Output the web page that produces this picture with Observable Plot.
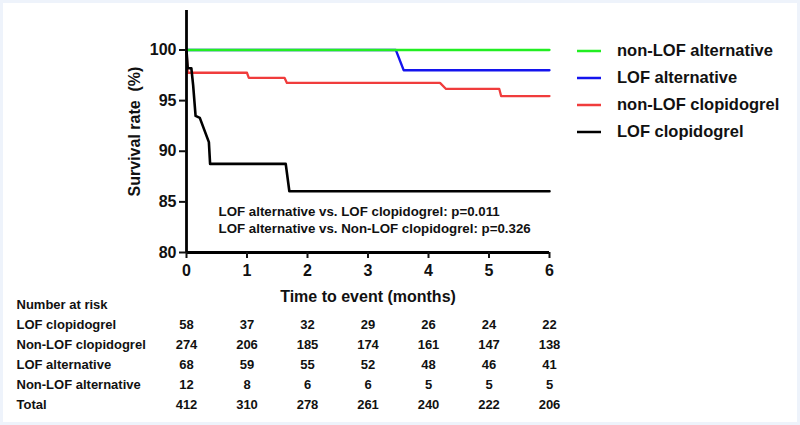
<!DOCTYPE html>
<html>
<head>
<meta charset="utf-8">
<script src="https://cdn.jsdelivr.net/npm/d3@7"></script>
<script src="https://cdn.jsdelivr.net/npm/@observablehq/plot@0.6"></script>
<style>
  html, body { margin: 0; padding: 0; background: #ffffff; }
  #wrap { position: relative; width: 800px; height: 425px; overflow: hidden; font-family: "Liberation Sans", Arial, sans-serif; }
  #frame { position: absolute; left: 0; top: 0; width: 800px; height: 425px; box-sizing: border-box; border: 3px solid #eef3fb; pointer-events: none; }
  #main { position: absolute; left: 0; top: 0; }
  #table { position: absolute; left: 0; top: 290px; }
  #legend { position: absolute; left: 577px; top: 37px; }
  .lg { display: flex; align-items: center; height: 27px; font-weight: bold; font-size: 16.5px; color: #111; }
  .lg svg { margin-right: 16px; }
</style>
</head>
<body>
<div id="wrap">
  <div id="main"></div>
  <div id="table"></div>
  <div id="legend"></div>
  <div id="frame"></div>
</div>
<script>
// ---- Data ----
const seriesNames = ["non-LOF alternative", "LOF alternative", "non-LOF clopidogrel", "LOF clopidogrel"];
const seriesColors = ["#22ee22", "#1414ee", "#f03c3c", "#000000"];

const nonLofAltTime = [0, 6];
const nonLofAltSurv = [100, 100];

const lofAltTime = [0, 3.46, 3.59, 6];
const lofAltSurv = [100, 100, 98, 98];

const nonLofClopTime = [0, 0.02, 1.0, 1.03, 1.62, 1.66, 4.19, 4.29, 5.17, 5.2, 6];
const nonLofClopSurv = [100, 97.75, 97.75, 97.25, 97.25, 96.75, 96.75, 96.15, 96.15, 95.45, 95.45];

const lofClopTime = [0, 0.02, 0.08, 0.11, 0.15, 0.22, 0.37, 0.39, 1.64, 1.7, 6];
const lofClopSurv = [100, 98.2, 98.2, 96.5, 93.5, 93.3, 90.9, 88.75, 88.75, 86.05, 86.05];

const yTicks = [80, 85, 90, 95, 100];
const xTicks = [0, 1, 2, 3, 4, 5, 6];

const annotations = [
  "LOF alternative vs. LOF clopidogrel: p=0.011",
  "LOF alternative vs. Non-LOF clopidogrel: p=0.326"
];
const annotationY = [84.0, 82.35];

const riskHeader = "Number at risk";
const riskRows = ["LOF clopidogrel", "Non-LOF clopidogrel", "LOF alternative", "Non-LOF alternative", "Total"];
const riskLofClop = [58, 37, 32, 29, 26, 24, 22];
const riskNonLofClop = [274, 206, 185, 174, 161, 147, 138];
const riskLofAlt = [68, 59, 55, 52, 48, 46, 41];
const riskNonLofAlt = [12, 8, 6, 6, 5, 5, 5];
const riskTotal = [412, 310, 278, 261, 240, 222, 206];

// ---- Build tables ----
const curves = [
  [nonLofAltTime, nonLofAltSurv],
  [lofAltTime, lofAltSurv],
  [nonLofClopTime, nonLofClopSurv],
  [lofClopTime, lofClopSurv]
];
const lineData = [];
curves.forEach(([t, s], i) => t.forEach((tt, j) => lineData.push({series: seriesNames[i], t: tt, s: s[j]})));
const drawOrder = ["non-LOF clopidogrel", "LOF alternative", "LOF clopidogrel", "non-LOF alternative"];

const font = "Liberation Sans, Arial, sans-serif";

const main = Plot.plot({
  width: 800,
  height: 312,
  marginLeft: 186,
  marginRight: 251,
  marginTop: 10,
  marginBottom: 60,
  style: {fontFamily: font, background: "transparent", color: "#111"},
  x: {domain: [0, 6]},
  y: {domain: [80, 103.9]},
  marks: [
    ...drawOrder.map(name => Plot.line(lineData.filter(d => d.series === name), {
      x: "t", y: "s", stroke: seriesColors[seriesNames.indexOf(name)],
      strokeWidth: name === "LOF clopidogrel" ? 2.6 : 2.3
    })),
    Plot.ruleX([0], {strokeWidth: 2.8, stroke: "#000"}),
    Plot.ruleY([80], {strokeWidth: 2.8, stroke: "#000"}),
    Plot.axisY({ticks: yTicks, tickSize: 7, tickPadding: 3, strokeWidth: 2, fontSize: 16, fontWeight: "bold",
      label: "Survival rate  (%)", labelAnchor: "center", labelArrow: "none", labelOffset: 58}),
    Plot.axisX({ticks: xTicks, tickFormat: "d", tickSize: 6, tickPadding: 6, strokeWidth: 2, fontSize: 16, fontWeight: "bold",
      label: "Time to event (months)", labelAnchor: "center", labelArrow: "none", labelOffset: 49}),
    Plot.text(annotations, {x: 0.53, y: (d, i) => annotationY[i], text: d => d, textAnchor: "start",
      fontSize: 13.3, fontWeight: "bold", fill: "#111"})
  ]
});
document.getElementById("main").appendChild(main);

// ---- Risk table ----
const tableRows = [];
const rowOrder = [riskHeader, ...riskRows];
[riskLofClop, riskNonLofClop, riskLofAlt, riskNonLofAlt, riskTotal].forEach((vals, i) =>
  vals.forEach((v, j) => tableRows.push({row: riskRows[i], t: xTicks[j], v})));

const table = Plot.plot({
  width: 800,
  height: 135,
  marginLeft: 186,
  marginRight: 251,
  marginTop: 13,
  marginBottom: 20,
  style: {fontFamily: font, background: "transparent", color: "#111"},
  x: {domain: [0, 6], axis: null},
  y: {type: "point", domain: rowOrder, axis: null, padding: 0},
  marks: [
    Plot.text(rowOrder, {y: d => d, text: d => d, frameAnchor: "left", dx: -170, textAnchor: "start",
      fontSize: 13, fontWeight: "bold", fill: "#111"}),
    Plot.text(tableRows, {x: "t", y: "row", text: "v", fontSize: 13, fontWeight: "bold", fill: "#111"})
  ]
});
document.getElementById("table").appendChild(table);

// ---- Legend ----
const legend = document.getElementById("legend");
seriesNames.forEach((name, i) => {
  const row = document.createElement("div");
  row.className = "lg";
  row.innerHTML = `<svg width="24" height="4"><line x1="0" x2="24" y1="2" y2="2" stroke="${seriesColors[i]}" stroke-width="2.5"/></svg><span>${name}</span>`;
  legend.appendChild(row);
});
</script>
</body>
</html>
